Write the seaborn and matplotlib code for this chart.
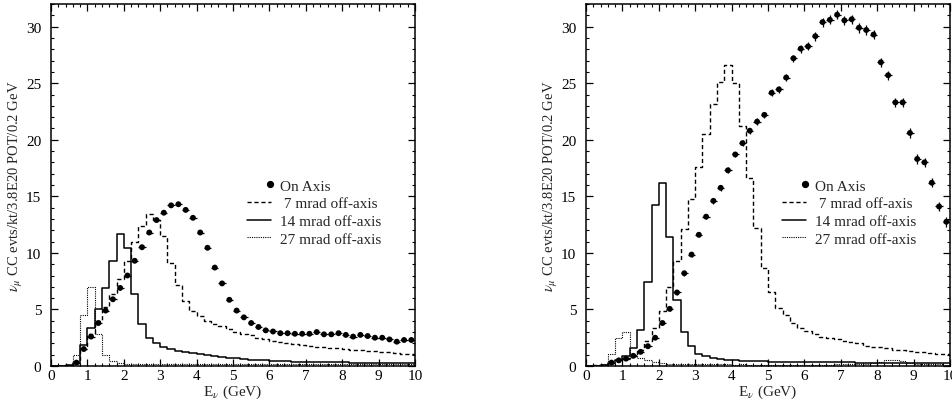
import numpy as np
import pandas as pd
import matplotlib
matplotlib.use("Agg")
import matplotlib.pyplot as plt
import seaborn as sns
from matplotlib.lines import Line2D
from matplotlib.legend_handler import HandlerLine2D
from matplotlib.ticker import MultipleLocator

# ---------------- data ----------------
bin_width = 0.2
bin_centers = np.round(np.arange(50) * bin_width + 0.1, 3)

nan = np.nan
# Left panel
left_on_axis = [nan, nan, nan, 0.3, 1.5, 2.6, 3.8, 4.9, 5.9, 6.9,
                8.0, 9.3, 10.5, 11.8, 12.9, 13.55, 14.2, 14.3, 13.8, 13.1,
                11.8, 10.45, 8.7, 7.3, 5.85, 4.9, 4.3, 3.8, 3.45, 3.15,
                3.05, 2.9, 2.9, 2.85, 2.85, 2.85, 3.0, 2.8, 2.8, 2.9,
                2.75, 2.6, 2.75, 2.65, 2.5, 2.5, 2.35, 2.15, 2.3, 2.3]
left_on_axis_err = [0.0] * 3 + [0.1] * 47
left_7mrad = [0.0, 0.0, 0.05, 0.3, 1.5, 2.8, 4.0, 5.2, 6.4, 7.7,
              9.3, 11.0, 12.4, 13.4, 12.95, 11.5, 9.1, 7.15, 5.75, 4.85,
              4.4, 4.0, 3.75, 3.5, 3.25, 3.0, 2.85, 2.7, 2.5, 2.35,
              2.2, 2.1, 2.0, 1.92, 1.85, 1.75, 1.7, 1.65, 1.6, 1.55,
              1.5, 1.45, 1.4, 1.35, 1.3, 1.25, 1.2, 1.15, 1.1, 1.05]
left_14mrad = [0.0, 0.0, 0.05, 0.3, 1.9, 3.4, 5.0, 6.9, 9.3, 11.7,
               10.4, 6.4, 3.7, 2.5, 2.0, 1.7, 1.5, 1.35, 1.22, 1.12,
               1.03, 0.95, 0.88, 0.8, 0.73, 0.67, 0.62, 0.57, 0.53, 0.49,
               0.46, 0.43, 0.41, 0.39, 0.37, 0.35, 0.34, 0.33, 0.32, 0.32,
               0.31, 0.3, 0.3, 0.29, 0.29, 0.28, 0.28, 0.27, 0.27, 0.26]
left_27mrad = [0.0, 0.0, 0.1, 1.0, 4.5, 7.0, 2.8, 1.0, 0.4, 0.25,
               0.22, 0.2, 0.21, 0.18, 0.2, 0.19, 0.21, 0.18, 0.2, 0.17,
               0.2, 0.18, 0.2, 0.16, 0.19, 0.18, 0.2, 0.17, 0.19, 0.16,
               0.18, 0.2, 0.17, 0.19, 0.16, 0.18, 0.17, 0.19, 0.16, 0.18,
               0.17, 0.19, 0.16, 0.18, 0.15, 0.17, 0.16, 0.18, 0.15, 0.16]

# Right panel
right_on_axis = [nan, nan, nan, 0.3, 0.5, 0.65, 0.9, 1.25, 1.75, 2.5,
                 3.8, 5.05, 6.5, 8.2, 9.85, 11.6, 13.2, 14.6, 15.75, 17.3,
                 18.7, 19.7, 20.8, 21.6, 22.2, 24.15, 24.45, 25.5, 27.2, 28.05,
                 28.25, 29.15, 30.4, 30.6, 31.05, 30.55, 30.65, 29.9, 29.7, 29.3,
                 26.85, 25.7, 23.3, 23.3, 20.6, 18.3, 18.0, 16.2, 14.1, 12.75]
right_on_axis_err = [0.0, 0.0, 0.0, 0.05, 0.07, 0.08, 0.09, 0.1, 0.12, 0.14,
                     0.16, 0.18, 0.2, 0.2, 0.22, 0.22, 0.24, 0.24, 0.25, 0.25,
                     0.26, 0.27, 0.28, 0.28, 0.29, 0.3, 0.3, 0.31, 0.33, 0.35,
                     0.36, 0.38, 0.4, 0.4, 0.42, 0.42, 0.42, 0.42, 0.42, 0.42,
                     0.42, 0.42, 0.42, 0.42, 0.42, 0.42, 0.42, 0.42, 0.42, 0.42]
right_7mrad = [0.0, 0.05, 0.1, 0.3, 0.55, 0.7, 0.9, 1.4, 2.2, 3.4,
               4.9, 7.0, 9.3, 12.1, 14.8, 17.6, 20.5, 23.2, 25.1, 26.6,
               25.0, 21.2, 16.6, 12.2, 8.7, 6.5, 5.15, 4.5, 3.8, 3.4,
               3.1, 2.8, 2.6, 2.45, 2.35, 2.25, 2.1, 2.0, 1.8, 1.7,
               1.7, 1.6, 1.4, 1.4, 1.3, 1.25, 1.2, 1.15, 1.1, 1.1]
right_14mrad = [0.0, 0.02, 0.1, 0.3, 0.5, 0.9, 1.6, 3.2, 7.4, 14.2,
                16.2, 11.4, 5.8, 3.0, 1.8, 1.1, 0.9, 0.75, 0.65, 0.55,
                0.5, 0.48, 0.45, 0.43, 0.4, 0.38, 0.37, 0.36, 0.35, 0.35,
                0.34, 0.33, 0.33, 0.32, 0.32, 0.31, 0.31, 0.3, 0.3, 0.3,
                0.3, 0.3, 0.29, 0.29, 0.29, 0.28, 0.28, 0.28, 0.28, 0.28]
right_27mrad = [0.0, 0.05, 0.2, 1.1, 2.5, 3.0, 1.0, 0.75, 0.5, 0.35,
                0.25, 0.2, 0.18, 0.17, 0.16, 0.15, 0.15, 0.14, 0.15, 0.14,
                0.13, 0.14, 0.13, 0.12, 0.13, 0.12, 0.13, 0.12, 0.12, 0.13,
                0.12, 0.13, 0.12, 0.13, 0.14, 0.15, 0.16, 0.18, 0.22, 0.28,
                0.35, 0.5, 0.5, 0.4, 0.3, 0.22, 0.18, 0.15, 0.14, 0.13]

legend_labels = ["On Axis", " 7 mrad off-axis", "14 mrad off-axis", "27 mrad off-axis"]
xlabel = r"E$_{\nu}$ (GeV)"
ylabel = r"$\nu_{\mu}$ CC evts/kt/3.8E20 POT/0.2 GeV"

# ---------------- style ----------------
sns.set_theme(style="ticks")
plt.rcParams["font.family"] = ["Liberation Serif", "DejaVu Serif"]
plt.rcParams["mathtext.fontset"] = "stix"
plt.rcParams["axes.linewidth"] = 1.1

fig = plt.figure(figsize=(9.52, 4.02), dpi=100)
ax_left = fig.add_axes([51 / 952, 35 / 402, 364 / 952, 362 / 402])
ax_right = fig.add_axes([586 / 952, 35 / 402, 364 / 952, 362 / 402])


class RightMarkerHandler(HandlerLine2D):
    def get_xdata(self, legend, xdescent, ydescent, width, height, fontsize):
        x = [-xdescent + width - 1.0]
        return x, x


def draw_panel(ax, on_axis, on_err, h7, h14, h27):
    df = pd.DataFrame({"E": bin_centers, "h7": h7, "h14": h14, "h27": h27,
                       "on": on_axis, "err": on_err})
    styles = [("h7", (0, (3, 2)), 1.0), ("h14", "-", 1.1), ("h27", (0, (1, 1)), 0.8)]
    for col, ls, lw in styles:
        sns.histplot(data=df, x="E", weights=col, binwidth=bin_width, binrange=(0, 10),
                     element="step", fill=False, color="black", linestyle=ls,
                     linewidth=lw, ax=ax)
    pts = df.dropna(subset=["on"])
    ax.errorbar(pts["E"], pts["on"], xerr=0.1, yerr=pts["err"], fmt="none",
                ecolor="black", elinewidth=0.9, capsize=0)
    sns.scatterplot(data=pts, x="E", y="on", color="black", s=18,
                    edgecolor="none", ax=ax, zorder=3)

    ax.set_xlim(0, 10)
    ax.set_ylim(0, 32)
    ax.xaxis.set_major_locator(MultipleLocator(1))
    ax.xaxis.set_minor_locator(MultipleLocator(0.2))
    ax.yaxis.set_major_locator(MultipleLocator(5))
    ax.yaxis.set_minor_locator(MultipleLocator(1))
    ax.tick_params(which="both", direction="in", top=True, right=True,
                   colors="black", labelsize=11)
    ax.tick_params(which="major", length=5, width=0.9)
    ax.tick_params(which="minor", length=2.5, width=0.8)
    ax.tick_params(axis="y", pad=7)
    ax.tick_params(axis="x", pad=2.5)
    for sp in ax.spines.values():
        sp.set_visible(True)
        sp.set_color("black")
    ax.set_xlabel(xlabel, fontsize=11, labelpad=0)
    ax.set_ylabel(ylabel, fontsize=10.5, labelpad=1)

    handles = [Line2D([], [], color="black", marker="o", markersize=4.2, linestyle="none"),
               Line2D([], [], color="black", linestyle=(0, (3, 2)), linewidth=1.0),
               Line2D([], [], color="black", linestyle="-", linewidth=1.1),
               Line2D([], [], color="black", linestyle=(0, (1, 1)), linewidth=0.8)]
    ax.legend(handles, legend_labels, loc="upper left",
              bbox_to_anchor=(0.538, 0.517), frameon=False, fontsize=11,
              borderpad=0, borderaxespad=0, handlelength=1.6, handletextpad=0.6,
              labelspacing=0.26,
              handler_map={handles[0]: RightMarkerHandler(numpoints=1)})


draw_panel(ax_left, left_on_axis, left_on_axis_err, left_7mrad, left_14mrad, left_27mrad)
draw_panel(ax_right, right_on_axis, right_on_axis_err, right_7mrad, right_14mrad, right_27mrad)

fig.savefig("out.png", dpi=100)
